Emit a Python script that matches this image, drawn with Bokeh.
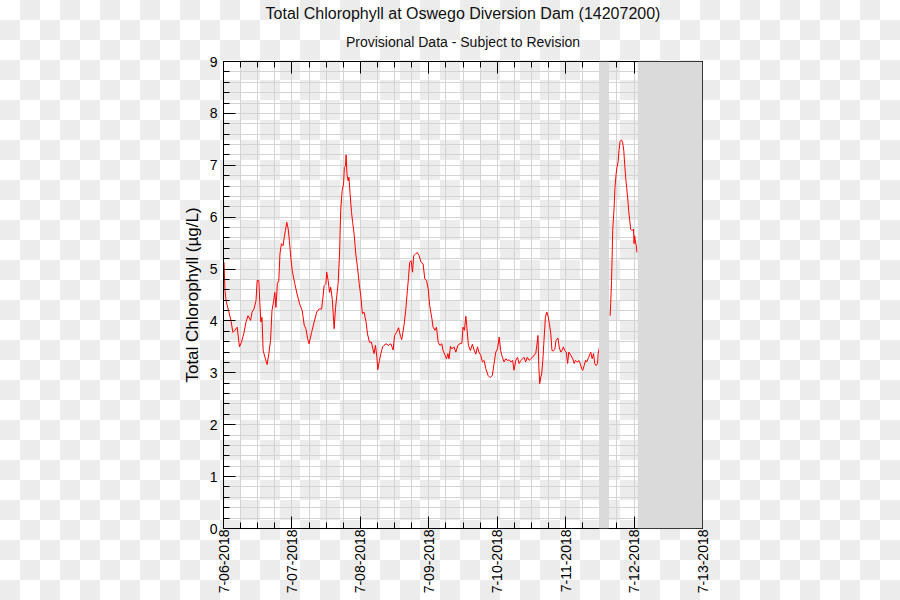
import numpy as np
from bokeh.plotting import figure
from bokeh.models import Range1d, FixedTicker, LinearAxis, BoxAnnotation, Title
from bokeh.embed import file_html
from bokeh.resources import INLINE

# ---------------- data ----------------
title_text = "Total Chlorophyll at Oswego Diversion Dam (14207200)"
subtitle_text = "Provisional Data - Subject to Revision"
y_label = "Total Chlorophyll (µg/L)"
day_labels = ["7-06-2018", "7-07-2018", "7-08-2018", "7-09-2018",
              "7-10-2018", "7-11-2018", "7-12-2018", "7-13-2018"]
y_tick_values = [0, 1, 2, 3, 4, 5, 6, 7, 8, 9]

# hours since 7-06-2018 00:00
seg1_hours = [0.2, 0.5, 0.9, 1.9, 2.6, 3.3, 4.0, 4.8, 5.6, 6.3, 7.1, 7.9, 8.6, 9.5, 10.0,
              10.7, 11.4, 11.8, 12.4, 12.7, 13.1, 13.5, 13.9, 14.7, 15.3, 15.9, 16.5, 17.0,
              17.6, 18.0, 18.4, 18.9, 19.4, 19.8, 20.3, 20.9, 21.3, 21.7, 22.2, 22.7, 23.1,
              23.6, 24.1, 25.0, 25.8, 26.7, 27.6, 28.3, 28.9, 29.5, 30.0, 30.9, 31.8, 32.7,
              33.5, 34.4, 34.7, 35.3, 35.9, 36.2, 36.7, 37.2, 37.6, 38.2, 38.8, 39.3, 39.7,
              40.2, 40.7, 41.1, 41.6, 42.1, 42.4, 42.8, 43.0, 43.3, 43.7, 44.0, 44.4, 44.9,
              45.3, 45.8, 46.4, 47.0, 47.6, 48.2, 48.7, 49.3, 50.0, 50.5, 51.2, 51.9, 52.4,
              52.8, 53.3, 53.8, 54.1, 54.7, 55.2, 55.8, 56.3, 57.0, 57.9, 58.7, 59.5, 60.0,
              60.7, 61.4, 62.1, 62.5, 63.3, 63.9, 64.5, 64.9, 65.3, 65.8, 66.3, 66.7, 67.2,
              67.9, 68.6, 69.3, 70.0, 70.6, 71.2, 71.8, 72.3, 73.1, 73.5, 74.2, 74.7, 75.3,
              75.9, 76.6, 77.0, 77.7, 78.2, 78.7, 79.1, 79.6, 80.1, 80.8, 81.5, 82.2, 82.9,
              83.6, 84.0, 84.5, 85.0, 85.3, 85.9, 86.6, 87.3, 87.9, 88.5, 89.1, 89.6, 90.2,
              90.8, 91.4, 92.0, 92.8, 93.5, 94.3, 94.9, 95.5, 96.1, 96.7, 97.2, 97.8, 98.4,
              99.0, 99.6, 100.2, 100.8, 101.4, 101.9, 102.5, 103.1, 103.7, 104.3, 104.9,
              105.4, 106.0, 106.6, 107.2, 107.8, 108.4, 108.9, 109.5, 109.9, 110.3, 110.6,
              110.9, 111.3, 111.6, 112.0, 112.4, 112.9, 113.4, 113.8, 114.3, 114.8, 115.2,
              115.7, 116.2, 116.6, 117.3, 117.8, 118.3, 118.7, 119.2, 119.7, 120.2, 120.7,
              121.1, 121.8, 122.5, 123.0, 123.4, 124.1, 124.6, 125.1, 125.6, 126.0, 126.5,
              127.0, 127.4, 128.1, 128.8, 129.3, 129.8, 130.2, 130.7, 131.2, 131.4, 131.9]
seg1_values = [5.13, 4.59, 4.39, 4.17, 4.01, 3.78, 3.82, 3.88, 3.50, 3.59, 3.75, 3.98, 4.10,
               4.01, 4.17, 4.23, 4.39, 4.78, 4.78, 4.39, 3.98, 4.07, 3.43, 3.27, 3.16, 3.37,
               3.62, 4.20, 4.39, 4.55, 4.26, 4.72, 4.78, 5.29, 5.49, 5.45, 5.61, 5.74, 5.90,
               5.77, 5.55, 5.23, 4.97, 4.72, 4.52, 4.33, 4.20, 3.92, 3.85, 3.66, 3.56, 3.78,
               3.98, 4.17, 4.23, 4.23, 4.36, 4.68, 4.72, 4.94, 4.78, 4.55, 4.65, 4.39, 3.85,
               4.26, 4.46, 4.72, 5.29, 6.13, 6.51, 6.64, 6.96, 6.99, 7.20, 6.83, 6.70, 6.77,
               6.45, 6.09, 5.90, 5.68, 5.29, 5.03, 4.72, 4.46, 4.14, 4.17, 3.98, 3.75, 3.59,
               3.59, 3.46, 3.37, 3.53, 3.30, 3.06, 3.24, 3.37, 3.50, 3.53, 3.56, 3.53, 3.56,
               3.44, 3.72, 3.78, 3.87, 3.70, 3.64, 3.91, 4.20, 4.59, 4.84, 5.13, 5.16, 4.94,
               5.26, 5.28, 5.32, 5.26, 5.13, 5.10, 4.81, 4.78, 4.62, 4.30, 4.04, 3.88, 3.82,
               3.88, 3.59, 3.53, 3.56, 3.43, 3.34, 3.27, 3.37, 3.27, 3.51, 3.46, 3.50, 3.40,
               3.53, 3.56, 3.57, 3.88, 3.82, 4.09, 3.91, 3.53, 3.43, 3.55, 3.44, 3.36, 3.50,
               3.40, 3.34, 3.21, 3.24, 3.08, 2.95, 2.91, 2.95, 3.18, 3.40, 3.46, 3.69, 3.43,
               3.30, 3.21, 3.27, 3.24, 3.25, 3.21, 3.24, 3.05, 3.24, 3.30, 3.18, 3.24, 3.27,
               3.30, 3.21, 3.30, 3.24, 3.27, 3.30, 3.34, 3.37, 3.53, 3.72, 3.11, 2.79, 2.92,
               2.98, 3.24, 3.62, 4.07, 4.17, 4.10, 3.95, 3.75, 3.43, 3.42, 3.45, 3.62, 3.67,
               3.48, 3.40, 3.43, 3.50, 3.43, 3.40, 3.18, 3.40, 3.34, 3.27, 3.18, 3.24, 3.21,
               3.24, 3.18, 3.08, 3.05, 3.14, 3.24, 3.21, 3.30, 3.40, 3.27, 3.37, 3.18, 3.14,
               3.18, 3.37, 3.50]

seg2_hours = [135.6, 135.8, 136.1, 136.3, 136.5, 137.0, 137.3, 137.7, 138.0, 138.4, 138.7,
              139.1, 139.6, 140.0, 140.4, 140.7, 141.1, 141.4, 141.8, 142.1, 142.5, 142.8,
              143.3, 143.8, 144.0, 144.2, 144.5, 144.8, 145.0]
seg2_values = [4.10, 4.34, 4.78, 5.23, 5.74, 6.19, 6.57, 6.83, 6.96, 7.06, 7.28, 7.46, 7.49,
               7.44, 7.28, 7.02, 6.74, 6.57, 6.35, 6.13, 5.93, 5.77, 5.74, 5.77, 5.49, 5.64,
               5.52, 5.45, 5.32]

gap_shade_hours = [131.7, 135.2]
end_shade_hours = [145.3, 168.0]
x_span_hours = [0, 168]
y_span = [0, 9]

# ---------------- styling ----------------
FONT = "Liberation Sans"
GRID = "#d4d4d4"
SHADE = "#dadada"

major_x = [24 * i for i in range(len(day_labels))]
minor_x = list(np.arange(0, 168.1, 6))
minor_y = [round(v, 1) for v in np.arange(0, 9.01, 0.2)]

xticker = FixedTicker(ticks=major_x, minor_ticks=minor_x)
yticker = FixedTicker(ticks=y_tick_values, minor_ticks=minor_y)

p = figure(width=900, height=600,
           x_range=Range1d(*x_span_hours), y_range=Range1d(*y_span),
           output_backend="svg", toolbar_location=None, title=None,
           min_border_left=223, min_border_right=198, min_border_top=61,
           min_border_bottom=72,
           background_fill_color=None, border_fill_color=None,
           outline_line_color="black", outline_line_width=1)


def style_axis(ax, show_labels):
    ax.axis_line_color = "black"
    ax.major_tick_line_color = "black"
    ax.minor_tick_line_color = "black"
    ax.major_tick_in = 12
    ax.major_tick_out = 0
    ax.minor_tick_in = 6
    ax.minor_tick_out = 0
    ax.major_label_text_font = FONT
    ax.major_label_text_font_size = "14px"
    ax.major_label_text_color = "black"
    if not show_labels:
        ax.major_label_text_font_size = "0px"
        ax.major_label_standoff = 0


xa = p.xaxis[0]
xa.ticker = xticker
xa.major_label_overrides = {t: lab for t, lab in zip(major_x, day_labels)}
xa.major_label_orientation = np.pi / 2
style_axis(xa, True)
xa.major_label_standoff = 1

ya = p.yaxis[0]
ya.ticker = yticker
style_axis(ya, True)
ya.major_label_standoff = 6
ya.axis_label = y_label
ya.axis_label_text_font = FONT
ya.axis_label_text_font_size = "17px"
ya.axis_label_text_font_style = "normal"
ya.axis_label_text_color = "black"
ya.axis_label_standoff = 5

top = LinearAxis(ticker=xticker)
style_axis(top, False)
top.major_label_overrides = {t: "" for t in major_x}
p.add_layout(top, "above")

right = LinearAxis(ticker=yticker)
style_axis(right, False)
right.major_label_overrides = {t: "" for t in y_tick_values}
p.add_layout(right, "right")

for g in (p.xgrid[0], p.ygrid[0]):
    g.grid_line_color = GRID
    g.minor_grid_line_color = GRID
    g.grid_line_width = 1
    g.minor_grid_line_width = 1
p.xgrid[0].ticker = xticker
p.ygrid[0].ticker = yticker

p.add_layout(BoxAnnotation(left=gap_shade_hours[0], right=gap_shade_hours[1],
                           fill_color=SHADE, fill_alpha=1, line_color=None))
p.add_layout(BoxAnnotation(left=end_shade_hours[0], right=end_shade_hours[1],
                           fill_color=SHADE, fill_alpha=1, line_color=None))

p.line(seg1_hours, seg1_values, line_color="#ff0000", line_width=1)
p.line(seg2_hours, seg2_values, line_color="#ff0000", line_width=1)

p.add_layout(Title(text=subtitle_text, align="center", text_font=FONT,
                   text_font_size="14px", text_font_style="normal",
                   text_color="#111111", standoff=23), "above")
p.add_layout(Title(text=title_text, align="center", text_font=FONT,
                   text_font_size="16px", text_font_style="normal",
                   text_color="#111111", standoff=-3), "above")

css = ("<style>body{background-color:#ffffff;background-image:"
       "repeating-conic-gradient(#ececec 0% 25%, #ffffff 0% 50%);"
       "background-size:40px 40px;background-position:0 0;}</style>")
open("out.html", "w").write(file_html(p, INLINE).replace("<head>", "<head>" + css, 1))
